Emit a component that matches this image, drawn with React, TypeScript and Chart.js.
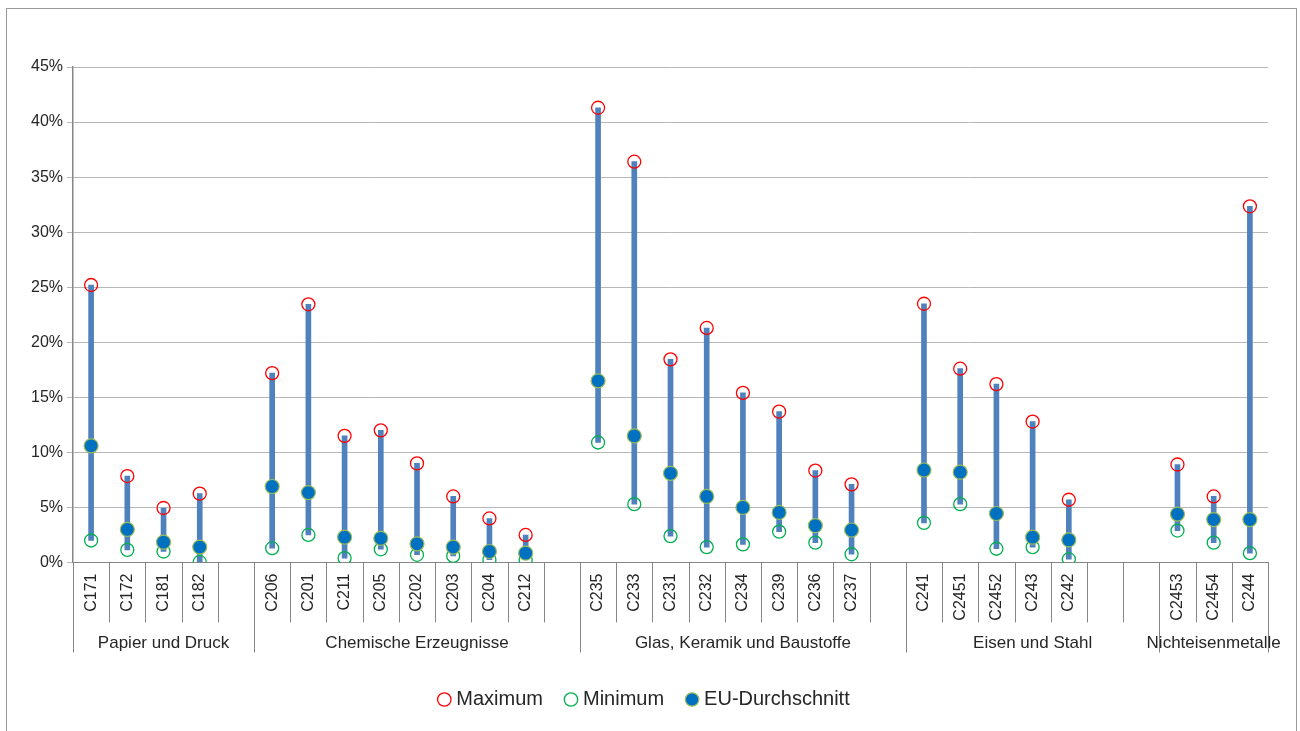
import React, { useEffect, useRef } from 'react';
import { Chart, registerables } from 'chart.js';

Chart.register(...registerables);

const categories: string[] = [
  'C171', 'C172', 'C181', 'C182', '',
  'C206', 'C201', 'C211', 'C205', 'C202', 'C203', 'C204', 'C212', '',
  'C235', 'C233', 'C231', 'C232', 'C234', 'C239', 'C236', 'C237', '',
  'C241', 'C2451', 'C2452', 'C243', 'C242', '', '',
  'C2453', 'C2454', 'C244',
];

const groupLabels: string[] = [
  'Papier und Druck',
  'Chemische Erzeugnisse',
  'Glas, Keramik und Baustoffe',
  'Eisen und Stahl',
  'Nichteisenmetalle',
];
const groupSpans: number[] = [5, 9, 9, 7, 3];

const maxValues: (number | null)[] = [
  25.2, 7.85, 4.95, 6.25, null,
  17.2, 23.45, 11.5, 12.0, 9.0, 6.0, 4.0, 2.5, null,
  41.3, 36.4, 18.45, 21.3, 15.4, 13.7, 8.35, 7.1, null,
  23.5, 17.6, 16.2, 12.8, 5.7, null, null,
  8.9, 6.0, 32.35,
];

const minValues: (number | null)[] = [
  2.0, 1.15, 1.0, 0.05, null,
  1.3, 2.5, 0.4, 1.2, 0.7, 0.6, 0.25, 0.25, null,
  10.9, 5.3, 2.4, 1.4, 1.65, 2.8, 1.8, 0.75, null,
  3.6, 5.3, 1.25, 1.4, 0.3, null, null,
  2.9, 1.8, 0.85,
];

const avgValues: (number | null)[] = [
  10.6, 3.0, 1.85, 1.4, null,
  6.9, 6.35, 2.3, 2.2, 1.7, 1.4, 1.0, 0.85, null,
  16.5, 11.5, 8.1, 6.0, 5.0, 4.55, 3.35, 2.95, null,
  8.4, 8.2, 4.45, 2.3, 2.05, null, null,
  4.4, 3.9, 3.9,
];

const yTicks: number[] = [0, 5, 10, 15, 20, 25, 30, 35, 40, 45];

const FONT = "'Liberation Sans', Arial, sans-serif";
const TEXT = '#262626';
const AXIS_GRAY = '#868686';

const categoryAxisPlugin = {
  id: 'categoryAxisPlugin',
  afterDraw(chart: any) {
    const ctx = chart.ctx as CanvasRenderingContext2D;
    const xScale = chart.scales.x;
    const area = chart.chartArea;
    const n = categories.length;
    const slot = (area.right - area.left) / n;
    const y0 = area.bottom;
    ctx.save();
    ctx.strokeStyle = AXIS_GRAY;
    ctx.lineWidth = 1;
    const groupStarts: number[] = [];
    let acc = 0;
    groupSpans.forEach((s) => { groupStarts.push(acc); acc += s; });
    const isGroupBoundary = (i: number) => i === 0 || i === n || groupStarts.includes(i);
    for (let i = 0; i <= n; i++) {
      const x = Math.round(xScale.getPixelForValue(Math.min(i, n - 1)) + (i === n ? slot / 2 : -slot / 2)) + 0.5;
      const yEnd = isGroupBoundary(i) ? y0 + 90 : y0 + 60;
      ctx.beginPath();
      ctx.moveTo(x, y0);
      ctx.lineTo(x, yEnd);
      ctx.stroke();
    }
    ctx.fillStyle = TEXT;
    ctx.font = `16px ${FONT}`;
    ctx.textAlign = 'right';
    ctx.textBaseline = 'middle';
    categories.forEach((c, i) => {
      if (!c) return;
      const x = xScale.getPixelForValue(i);
      ctx.save();
      ctx.translate(x, y0 + 11);
      ctx.rotate(-Math.PI / 2);
      ctx.fillText(c, 0, 0);
      ctx.restore();
    });
    ctx.font = `17px ${FONT}`;
    ctx.textAlign = 'center';
    groupLabels.forEach((g, gi) => {
      const s = groupStarts[gi];
      const e = s + groupSpans[gi] - 1;
      const xs = xScale.getPixelForValue(s) - slot / 2;
      const xe = xScale.getPixelForValue(e) + slot / 2;
      ctx.fillText(g, (xs + xe) / 2, y0 + 81);
    });
    ctx.restore();
  },
};

export default function App() {
  const canvasRef = useRef<HTMLCanvasElement | null>(null);

  useEffect(() => {
    if (!canvasRef.current) return;
    const rangeData = categories.map((_, i) =>
      maxValues[i] == null || minValues[i] == null ? null : [minValues[i] as number, maxValues[i] as number]
    );
    const chart = new Chart(canvasRef.current, {
      type: 'bar',
      data: {
        labels: categories,
        datasets: [
          {
            type: 'line',
            label: 'Maximum',
            data: maxValues,
            showLine: false,
            pointStyle: 'circle',
            pointRadius: 6.5,
            pointBorderWidth: 1.3,
            pointBorderColor: '#FF0000',
            pointBackgroundColor: 'rgba(255,255,255,0)',
            borderColor: '#FF0000',
            backgroundColor: 'rgba(255,255,255,0)',
            order: 3,
          } as any,
          {
            type: 'line',
            label: 'Minimum',
            data: minValues,
            showLine: false,
            pointStyle: 'circle',
            pointRadius: 6.5,
            pointBorderWidth: 1.3,
            pointBorderColor: '#00B050',
            pointBackgroundColor: 'rgba(255,255,255,0)',
            borderColor: '#00B050',
            backgroundColor: 'rgba(255,255,255,0)',
            order: 2,
          } as any,
          {
            type: 'line',
            label: 'EU-Durchschnitt',
            data: avgValues,
            showLine: false,
            pointStyle: 'circle',
            pointRadius: 7,
            pointBorderWidth: 1.2,
            pointBorderColor: '#9BBB59',
            pointBackgroundColor: '#0070C0',
            borderColor: '#9BBB59',
            backgroundColor: '#0070C0',
            order: 1,
          } as any,
          {
            type: 'bar',
            label: 'range',
            data: rangeData as any,
            backgroundColor: '#4F81BD',
            borderWidth: 0,
            barThickness: 5,
            order: 10,
          } as any,
        ],
      },
      options: {
        animation: false,
        responsive: true,
        maintainAspectRatio: false,
        layout: { padding: { top: 67, left: 0, right: 8, bottom: 11.5 } },
        plugins: {
          tooltip: { enabled: false },
          legend: {
            display: true,
            position: 'bottom',
            labels: {
              usePointStyle: true,
              boxWidth: 4,
              boxHeight: 9.5,
              padding: 26,
              color: TEXT,
              font: { family: FONT, size: 20 },
              filter: (item: any) => item.text !== 'range',
              sort: (a: any, b: any) => a.datasetIndex - b.datasetIndex,
            },
          },
        },
        scales: {
          x: {
            type: 'category',
            offset: true,
            grid: { display: false, offset: true },
            border: { display: true, color: AXIS_GRAY, width: 1 },
            ticks: { display: false },
            afterFit: (scale: any) => { scale.height = 101; },
          },
          y: {
            min: 0,
            max: 45,
            afterBuildTicks: (scale: any) => { scale.ticks = yTicks.map((v) => ({ value: v })); },
            grid: {
              color: '#B7B7B7',
              lineWidth: 1,
              drawTicks: true,
              tickLength: 6,
              tickColor: '#B7B7B7',
            },
            border: { display: true, color: AXIS_GRAY, width: 1.5 },
            ticks: {
              padding: 4,
              color: TEXT,
              font: { family: FONT, size: 16 },
              callback: (v: any) => `${v}%`,
            },
            afterFit: (scale: any) => { scale.width = 73; },
          },
          ySpacer: {
            type: 'linear',
            position: 'right',
            display: true,
            min: 0,
            max: 45,
            grid: { display: false, drawOnChartArea: false },
            border: { display: false },
            ticks: { display: false },
            afterFit: (scale: any) => { scale.width = 24; },
          },
        },
      },
      plugins: [categoryAxisPlugin],
    });
    return () => chart.destroy();
  }, []);

  return (
    <>
      <div
        style={{
          position: 'fixed',
          left: 6,
          top: 8,
          width: 1291,
          height: 760,
          border: '1.5px solid #9a9a9a',
          boxSizing: 'border-box',
          background: '#fff',
        }}
      />
      <div style={{ position: 'fixed', left: 0, top: 0, width: 1300, height: 731 }}>
        <canvas ref={canvasRef} />
      </div>
    </>
  );
}
